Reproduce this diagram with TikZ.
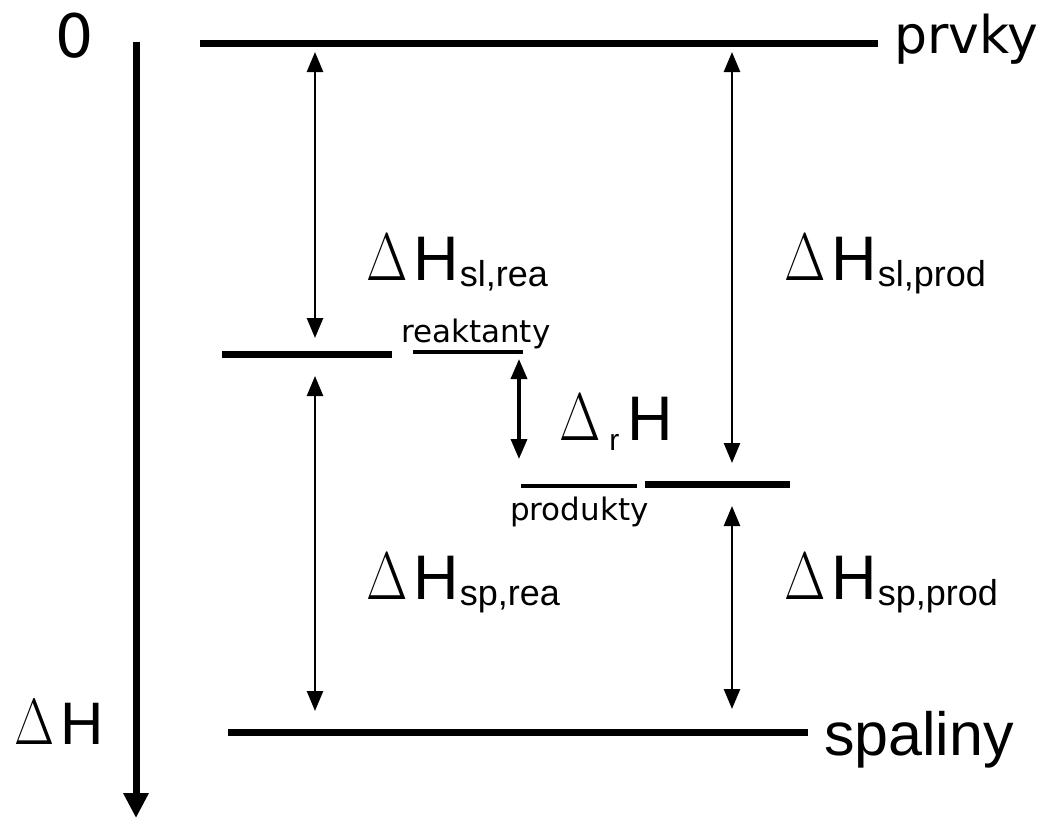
\documentclass[tikz,border=0pt]{standalone}
\usepackage{fontspec}
\newfontfamily\arial{Liberation Sans}
\newfontfamily\vfont{DejaVu Sans}
\usetikzlibrary{arrows.meta}
% upright Delta with thin/thick strokes
\newcommand{\Dl}[1]{\scalebox{0.85}[1.07]{\rmfamily\fontsize{#1}{#1}\selectfont\char"0394}}
\newcommand{\dH}[1]{\Dl{63}\hspace{6pt}{\arial\fontsize{63}{63}\selectfont H}\hspace{1pt}\raisebox{-6pt}{\arial\fontsize{36}{36}\selectfont #1}}
\begin{document}
\begin{tikzpicture}[x=1pt,y=-1pt,
  level/.style={line width=7pt},
  thinlevel/.style={line width=3.5pt},
  gap/.style={line width=2.6pt,{Triangle[length=20pt,width=16pt]}-{Triangle[length=20pt,width=16pt]}},
  lbl/.style={anchor=base west,inner sep=0pt,outer sep=0pt},
  statename/.style={anchor=base west,inner sep=0pt,outer sep=0pt,font=\vfont\fontsize{31}{31}\selectfont}]
\useasboundingbox (0,0) rectangle (1061,819);

% energy axis
\coordinate (axtop) at (136,42);
\coordinate (axbot) at (136,818);
\draw[line width=7pt,-{Triangle[length=25pt,width=24pt]}] (axtop) -- (axbot);
\node[lbl,font=\vfont\fontsize{60}{60}\selectfont] (zero) at (55,57) {0};
\node[lbl] (dHax) at (14,744) {\Dl{61}\hspace{6pt}{\arial\fontsize{60}{60}\selectfont H}};

% levels
\draw[level] (200,43) coordinate (pL) -- (878,43) coordinate (pR);
\node[lbl,font=\vfont\fontsize{52}{52}\selectfont] (prvky) at (894,53) {prvky};

\draw[level] (222,354) coordinate (rL) -- (392,354) coordinate (rR);
\draw[thinlevel] (413,352) coordinate (rtL) -- (523,352) coordinate (rtR);
\node[statename] (reakt) at (401,342) {reaktanty};

\draw[thinlevel] (521,486) coordinate (ptL) -- (637,486) coordinate (ptR);
\draw[level] (645,484) coordinate (pdL) -- (790,484) coordinate (pdR);
\node[statename] (prod) at (510,520) {produkty};

\draw[level] (228,732) coordinate (sL) -- (808,732) coordinate (sR);
\node[lbl,font=\arial\fontsize{61}{61}\selectfont] (spal) at (824,755) {spaliny};

% arrow end points
\coordinate (a1t) at (315,52);
\coordinate (a1b) at (315,338);
\coordinate (a2t) at (315,376);
\coordinate (a2b) at (315,711);
\coordinate (a3t) at (519,359);
\coordinate (a3b) at (519,459);
\coordinate (a4t) at (732,52);
\coordinate (a4b) at (732,463);
\coordinate (a5t) at (732,506);
\coordinate (a5b) at (732,709);

\draw[gap] (a1t) -- (a1b);
\draw[gap] (a2t) -- (a2b);
\draw[gap,line width=3.5pt] (a3t) -- (a3b);
\draw[gap] (a4t) -- (a4b);
\draw[gap] (a5t) -- (a5b);

% enthalpy labels
\node[lbl] (slrea) at (366,280) {\dH{sl,rea}};
\node[lbl] (slprod) at (784,280) {\dH{sl,prod}};
\node[lbl] (sprea) at (366,599) {\dH{sp,rea}};
\node[lbl] (spprod) at (784,599) {\dH{sp,prod}};
\node[lbl] (drH) at (559,440) {\Dl{63}\hspace{9pt}\raisebox{-10pt}{\arial\fontsize{30}{30}\selectfont r}\hspace{8pt}{\arial\fontsize{63}{63}\selectfont H}};
\end{tikzpicture}
\end{document}
